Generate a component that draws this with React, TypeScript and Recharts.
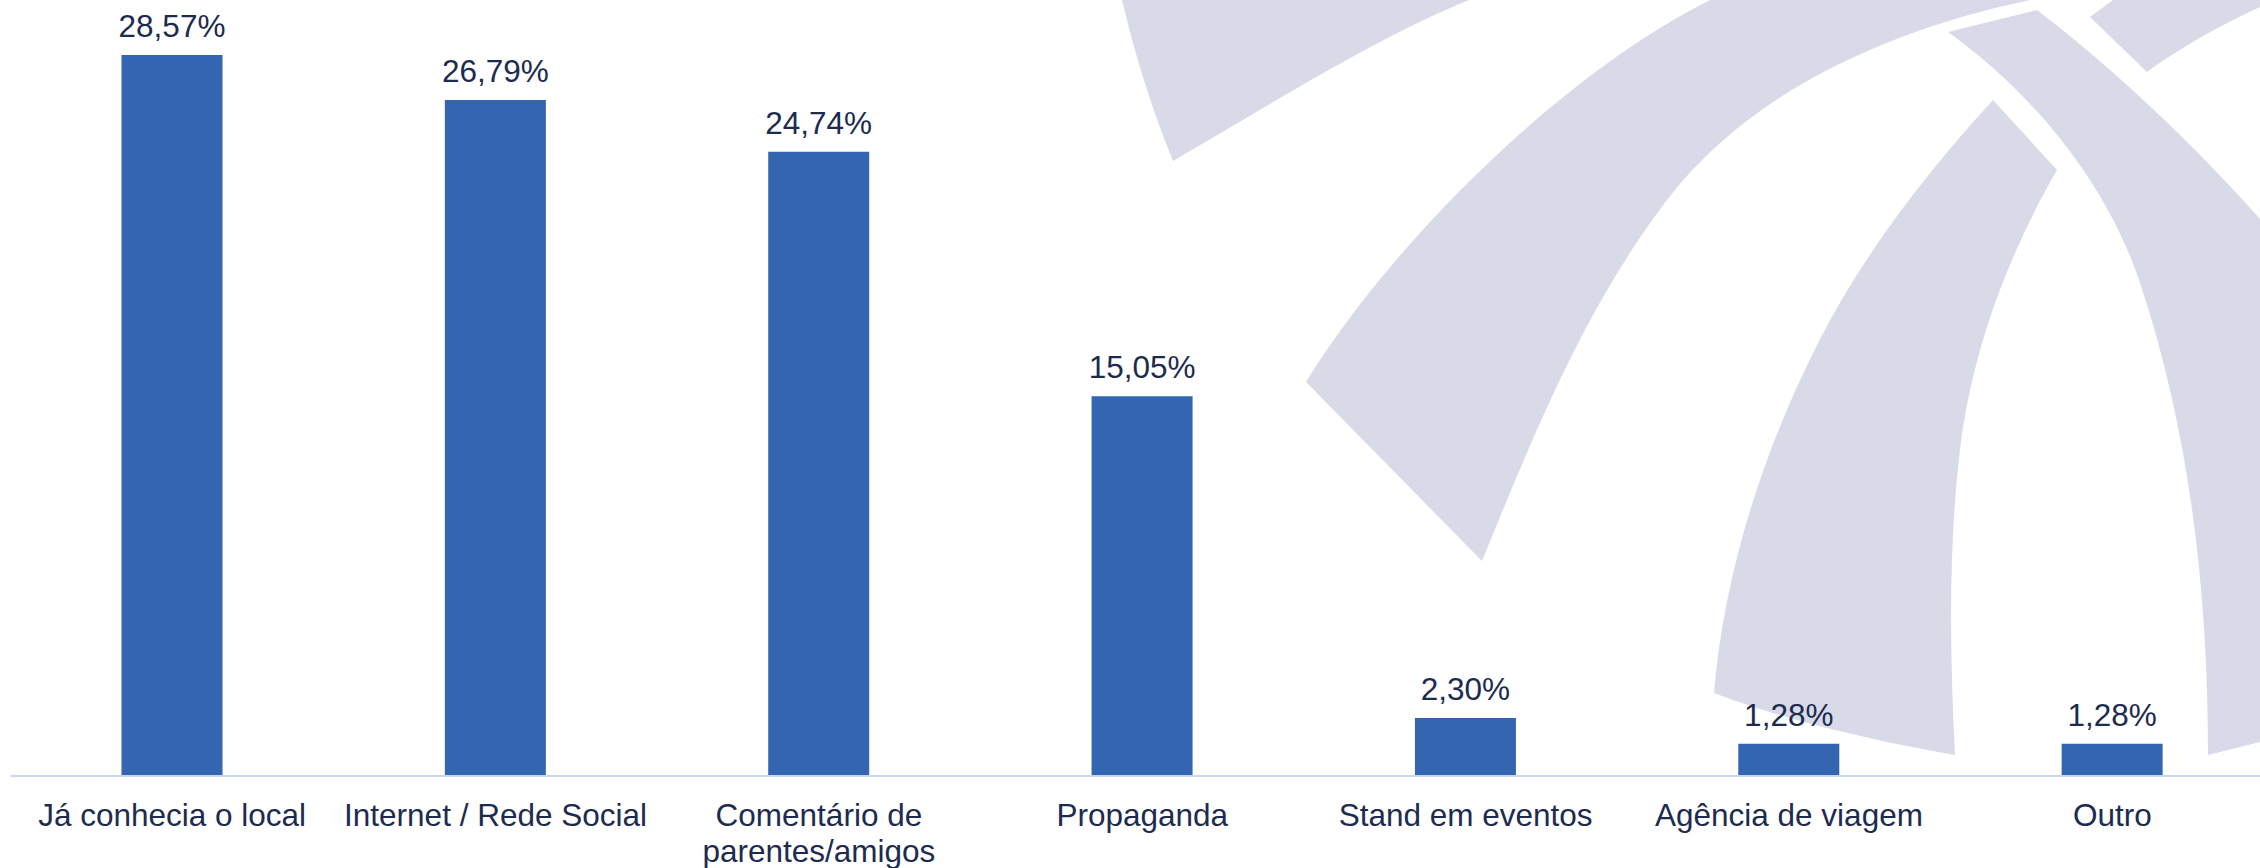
import React from 'react';
import { BarChart, Bar, XAxis, YAxis, LabelList } from 'recharts';

// ---- data ----
const categories: string[] = [
  'Já conhecia o local',
  'Internet / Rede Social',
  'Comentário de parentes/amigos',
  'Propaganda',
  'Stand em eventos',
  'Agência de viagem',
  'Outro',
];
const percentages: number[] = [28.57, 26.79, 24.74, 15.05, 2.3, 1.28, 1.28];
const yDomain: [number, number] = [0, 30];

const data = categories.map((name, i) => ({ name, value: percentages[i] }));

// ---- styling ----
const FONT = '"Liberation Sans", Arial, Helvetica, sans-serif';
const FONT_SIZE = 31.5;
const TEXT_COLOR = '#1D2B4F';
const BAR_COLOR = '#3365B0';
const AXIS_COLOR = '#C9D6EE';
const MARK_COLOR = '#D8DBE7';
const TICK_MAX_WIDTH = 320;
const TICK_LINE_HEIGHT = 36;

// decorative watermark (background logo arcs, not data)
const WATERMARK_PATHS: string[] = [
  'M1122,0 C1135,55 1152,110 1173,161 C1270,105 1375,38 1469,0 Z',
  'M1306,382 C1390,245 1560,75 1710,0 L2030,0 C1893,29 1752,89 1667,200 C1585,307 1533,436 1482,561 Z',
  'M1993,100 L2057,170 C2007,257 1972,351 1960,450 C1948,549 1950,655 1955,755 C1880,742 1790,722 1714,693 C1724,573 1763,452 1817,345 C1862,256 1925,174 1993,100 Z',
  'M1948,32 L2037,10 C2132,83 2223,173 2300,265 L2300,760 L2260,742 L2208,755 C2208,595 2190.6,434.8 2140,283 C2107,183 2033,93 1948,32 Z',
  'M2090,17 L2113,0 L2260,0 L2260,7 C2220,25 2180,48 2147,72 Z',
];

// ---- greedy word wrap for the category labels ----
let ctx: CanvasRenderingContext2D | null = null;
function textWidth(s: string): number {
  if (!ctx && typeof document !== 'undefined') {
    ctx = document.createElement('canvas').getContext('2d');
  }
  if (!ctx) return s.length * FONT_SIZE * 0.5;
  ctx.font = `${FONT_SIZE}px ${FONT}`;
  return ctx.measureText(s).width;
}
function wrap(label: string, maxW: number): string[] {
  const words = label.split(' ');
  const lines: string[] = [];
  let cur = '';
  words.forEach((w) => {
    const test = cur ? `${cur} ${w}` : w;
    if (cur && textWidth(test) > maxW) {
      lines.push(cur);
      cur = w;
    } else {
      cur = test;
    }
  });
  if (cur) lines.push(cur);
  return lines;
}

const CategoryTick = (props: any) => {
  const { x, y, payload } = props;
  const lines = wrap(String(payload.value), TICK_MAX_WIDTH);
  return (
    <text
      x={x}
      y={y}
      textAnchor="middle"
      fontSize={FONT_SIZE}
      fill={TEXT_COLOR}
      fontFamily={FONT}
    >
      {lines.map((ln, i) => (
        <tspan key={i} x={x} dy={i === 0 ? FONT_SIZE * 0.71 : TICK_LINE_HEIGHT}>
          {ln}
        </tspan>
      ))}
    </text>
  );
};

const fmt = (v: any) => `${Number(v).toFixed(2).replace('.', ',')}%`;

export default function App() {
  return (
    <div
      style={{
        position: 'fixed',
        left: 0,
        top: 0,
        width: 2260,
        height: 868,
        overflow: 'hidden',
        background: '#ffffff',
        fontFamily: FONT,
      }}
    >
      <svg width={2260} height={868} style={{ position: 'absolute', left: 0, top: 0 }}>
        {WATERMARK_PATHS.map((d, i) => (
          <path key={i} d={d} fill={MARK_COLOR} />
        ))}
      </svg>
      <div style={{ position: 'absolute', left: 0, top: 0 }}>
        <BarChart
          width={2274}
          height={868}
          data={data}
          margin={{ top: 19, right: 0, left: 10.5, bottom: 0 }}
        >
          <XAxis
            dataKey="name"
            interval={0}
            height={92}
            tickSize={0}
            tickMargin={27.5}
            tickLine={false}
            axisLine={{ stroke: AXIS_COLOR, strokeWidth: 2 }}
            tick={<CategoryTick />}
          />
          <YAxis hide domain={yDomain} type="number" allowDataOverflow />
          <Bar dataKey="value" fill={BAR_COLOR} barSize={101} isAnimationActive={false}>
            <LabelList
              dataKey="value"
              position="top"
              offset={18}
              formatter={fmt}
              fill={TEXT_COLOR}
              fontSize={FONT_SIZE}
              fontFamily={FONT}
            />
          </Bar>
        </BarChart>
      </div>
    </div>
  );
}
